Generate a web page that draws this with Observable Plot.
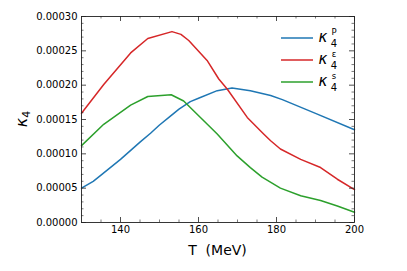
<!DOCTYPE html>
<html><head><meta charset="utf-8">
<script src="https://cdn.jsdelivr.net/npm/d3@7"></script>
<script src="https://cdn.jsdelivr.net/npm/@observablehq/plot@0.6"></script>
<style>body{margin:0;background:#fff;} #c{position:relative;width:407px;height:271px;}</style>
</head><body><div id="c"></div><script>
const seriesNames = ["P", "ε", "s"];
const seriesColors = ["#1f77b4", "#d62728", "#2ca02c"];
const T_P = [130,133,135,140,145,147.7,150,152.8,155,157.9,160,164.8,168.6,173.3,178.5,181.5,190,200];
const K_P = [0.000050,0.000060,0.000069,0.000092,0.000117,0.000130,0.000142,0.000155,0.000165,0.000176,0.000181,0.000192,0.000196,0.000192,0.000185,0.000179,0.000159,0.000135];
const T_E = [130,135.7,142.6,147,153.2,155.5,157.5,162.2,165.2,167.4,172.5,176.7,178.5,181,186.2,191.3,195.6,200];
const K_E = [0.000159,0.000201,0.000247,0.000268,0.000278,0.000274,0.000265,0.000236,0.000209,0.000194,0.000153,0.000129,0.000119,0.000107,0.000092,0.000080,0.000063,0.000048];
const T_S = [130,135.7,142.6,147,153,156.2,160.5,164.8,169.9,173.3,176.3,181,186.2,191.3,195.6,200];
const K_S = [0.000112,0.000143,0.000171,0.0001835,0.000186,0.000177,0.000153,0.000129,0.000097,0.000080,0.000066,0.000050,0.000039,0.000032,0.000024,0.000015];
const xMajor = [140,160,180,200];
const xMinor = [135,145,150,155,165,170,175,185,190,195];
const yMajor = [0,0.00005,0.0001,0.00015,0.0002,0.00025,0.0003];
const yMinor = d3.range(1,30).filter(i=>i%5!==0).map(i=>i*0.00001);

const W=407,H=271,mL=81,mR=53,mT=16,mB=49;
const pw=W-mL-mR, ph=H-mT-mB;
const rows = [];
[[T_P,K_P],[T_E,K_E],[T_S,K_S]].forEach(([t,k],i)=>t.forEach((x,j)=>rows.push({T:x,k:k[j],s:seriesNames[i]})));
const tc="#222";
const chart = Plot.plot({
  width:W,height:H,marginLeft:mL,marginRight:mR,marginTop:mT,marginBottom:mB,
  style:{fontFamily:"DejaVu Sans",fontSize:"10px",color:"#000",background:"#fff"},
  x:{domain:[130,200]},
  y:{domain:[0,0.0003]},
  color:{domain:seriesNames,range:seriesColors},
  marks:[
    Plot.line(rows,{x:"T",y:"k",z:"s",stroke:"s",strokeWidth:1.5,curve:"linear"}),
    Plot.ruleX(xMajor,{x:d=>d,insetTop:ph-5,stroke:tc,strokeWidth:0.8}),
    Plot.ruleX(xMajor,{x:d=>d,insetBottom:ph-5,stroke:tc,strokeWidth:0.8}),
    Plot.ruleX(xMinor,{x:d=>d,insetTop:ph-2.5,stroke:tc,strokeWidth:0.6}),
    Plot.ruleX(xMinor,{x:d=>d,insetBottom:ph-2.5,stroke:tc,strokeWidth:0.6}),
    Plot.ruleY(yMajor,{y:d=>d,insetRight:pw-5,stroke:tc,strokeWidth:0.8}),
    Plot.ruleY(yMajor,{y:d=>d,insetLeft:pw-5,stroke:tc,strokeWidth:0.8}),
    Plot.ruleY(yMinor,{y:d=>d,insetRight:pw-2.5,stroke:tc,strokeWidth:0.6}),
    Plot.ruleY(yMinor,{y:d=>d,insetLeft:pw-2.5,stroke:tc,strokeWidth:0.6}),
    Plot.axisX({ticks:xMajor,tickSize:0,tickPadding:3,tickFormat:d=>String(d),label:null}),
    Plot.axisY({ticks:yMajor,tickSize:0,tickPadding:4,tickFormat:d3.format(".5f"),label:null}),
    Plot.frame({stroke:tc,strokeWidth:0.9})
  ]
});
document.getElementById("c").appendChild(chart);
const svg = d3.select(chart);
svg.append("text").attr("x",mL+pw/2).attr("y",255).attr("text-anchor","middle")
  .attr("font-family","DejaVu Sans").attr("font-size",14).text("T\u00a0 (MeV)");
const yl = svg.append("text").attr("transform","translate(27,119) rotate(-90)").attr("text-anchor","middle")
  .attr("font-family","DejaVu Sans").attr("font-size",16);
yl.append("tspan").attr("font-style","italic").text("κ");
yl.append("tspan").attr("font-size",11).attr("dy",3).text("4");
const leg = svg.append("g");
seriesNames.forEach((n,i)=>{
  const y = 38 + i*22;
  leg.append("line").attr("x1",281).attr("x2",313).attr("y1",y).attr("y2",y)
    .attr("stroke",seriesColors[i]).attr("stroke-width",1.5);
  const t = leg.append("text").attr("x",323).attr("y",y+4.3).attr("font-family","DejaVu Sans").attr("font-size",15);
  t.append("tspan").attr("font-style","italic").text("κ");
  t.append("tspan").attr("x",334).attr("dy",4.5).attr("font-size",10).text("4");
  t.append("tspan").attr("x",334).attr("dy",-12).attr("font-size",8.5).text(n);
});
</script></body></html>
